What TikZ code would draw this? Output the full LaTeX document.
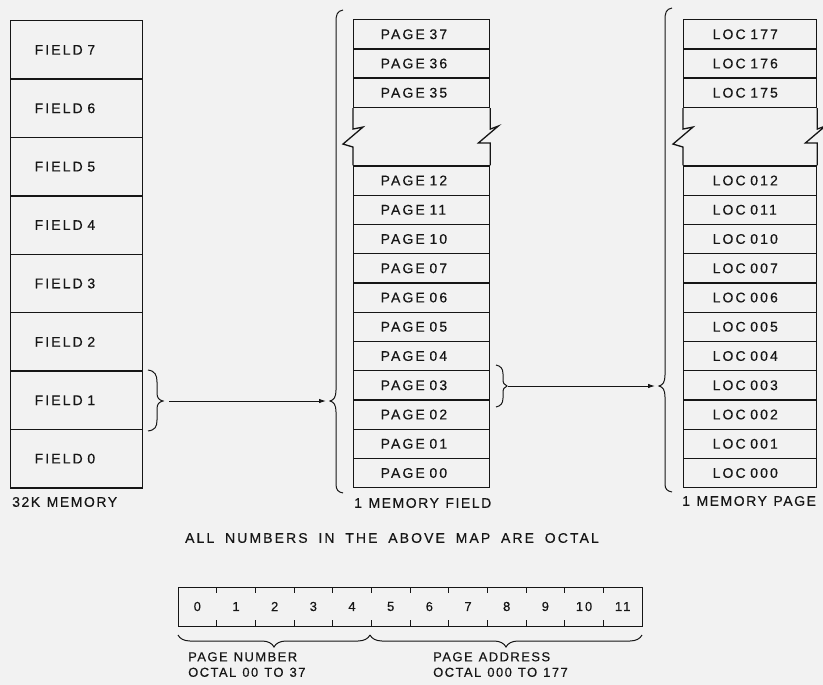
\documentclass[tikz,border=0pt]{standalone}
\usepackage{fontspec}
\setmainfont{Liberation Sans}[LetterSpace=15, WordSpace=1.8, FakeBold=0.4]
\newfontfamily\tightlbl{Liberation Sans}[LetterSpace=11, WordSpace=1.2, FakeBold=0.4]
\usetikzlibrary{arrows.meta,decorations.pathreplacing}
\definecolor{bgc}{RGB}{242,242,242}
\definecolor{ink}{RGB}{22,22,22}
\begin{document}
\begin{tikzpicture}[x=1pt,y=-1pt,
  every node/.style={text=ink},
  txt/.style={font=\fontsize{14}{16}\selectfont},
  smalltxt/.style={font=\fontsize{13}{15.5}\selectfont},
  boxline/.style={draw=ink, line width=1.3pt},
  fieldbox/.style={boxline, txt, minimum height=58.4pt, text width=84pt, inner xsep=24pt, inner ysep=0pt, align=left, anchor=north west},
  pagebox/.style={boxline, txt, minimum height=29.25pt, text width=82pt, inner xsep=27pt, inner ysep=0pt, align=left, anchor=north west},
  locbox/.style={boxline, txt, minimum height=29.25pt, text width=75pt, inner xsep=29pt, inner ysep=0pt, align=left, anchor=north west},
  bracestyle/.style={draw=ink, line width=1pt},
  arr/.style={draw=ink, line width=0.9pt, -{Latex[length=7pt,width=4.5pt]}},
  lbl/.style={font=\tightlbl\fontsize{14}{16}\selectfont, anchor=west, inner sep=0pt},
  botlbl/.style={font=\tightlbl\fontsize{13}{15.5}\selectfont, anchor=north west, align=left, inner sep=0pt}
]
\fill[bgc] (0,0) rectangle (823,685);
\useasboundingbox (0,0) rectangle (823,685);

% 32K memory column
\foreach \i in {0,...,7}
  \node[fieldbox] (f\i) at (10,{20+(7-\i)*58.4}) {FIELD \i};

% memory field column
\foreach \k/\lab in {0/37,1/36,2/35,5/12,6/11,7/10,8/07,9/06,10/05,11/04,12/03,13/02,14/01,15/00}
  \node[pagebox] (p\lab) at (353,{19+\k*29.25}) {PAGE \lab};

% memory page column
\foreach \k/\lab in {0/177,1/176,2/175,5/012,6/011,7/010,8/007,9/006,10/005,11/004,12/003,13/002,14/001,15/000}
  \node[locbox] (l\lab) at (683,{19+\k*29.25}) {LOC \lab};

% breaks
\draw[boxline] (p35.south west) -- ++(0,21) -- ++(10,-2) -- ++(-20,17) -- ++(10,3) -- (p12.north west);
\draw[boxline] (p35.south east) -- ++(0,21) -- ++(8,-3) -- ++(-20,17) -- ++(12,0) -- (p12.north east);
\draw[boxline] (l175.south west) -- ++(0,21) -- ++(10,-2) -- ++(-20,17) -- ++(10,3) -- (l012.north west);
\draw[boxline] (l175.south east) -- ++(0,21) -- ++(8,-3) -- ++(-20,17) -- ++(12,0) -- (l012.north east);

% column labels
\node[lbl] (lab1) at (12,502) {32K MEMORY};
\node[lbl] (lab2) at (354,503) {1 MEMORY FIELD};
\node[lbl] (lab3) at (682,501) {1 MEMORY PAGE};

% braces
\draw[bracestyle] (148,370) .. controls (155,371) and (157,375) .. (157,382) -- (157,393)
  .. controls (157,398) and (159,400) .. (163,401) .. controls (159,402) and (157,404) .. (157,409)
  -- (157,420) .. controls (157,427) and (155,430) .. (148,431);
\coordinate (t1) at (163,401);
\draw[bracestyle] (343,10) .. controls (337,11) and (336,15) .. (336,22) -- (336,390)
  .. controls (336,397) and (334,400) .. (330,401) .. controls (334,402) and (336,405) .. (336,412)
  -- (336,484) .. controls (336,490) and (338,492) .. (343,493);
\coordinate (t2) at (330,401);
\draw[bracestyle] (496,365) .. controls (501,366) and (503,369) .. (503,374) -- (503,379)
  .. controls (503,383) and (504,385) .. (507,386) .. controls (504,387) and (503,389) .. (503,393)
  -- (503,398) .. controls (503,403) and (501,406) .. (496,407);
\coordinate (t3) at (507,386);
\draw[bracestyle] (672,8) .. controls (666,9) and (665,13) .. (665,20) -- (665,375)
  .. controls (665,382) and (663,385) .. (659,386) .. controls (663,387) and (665,390) .. (665,397)
  -- (665,484) .. controls (665,489) and (667,491) .. (672,492);
\coordinate (t4) at (659,386);

\draw[arr, shorten <=6pt, shorten >=4pt] (t1) -- (t2);
\draw[arr, shorten <=1pt, shorten >=4pt] (t3) -- (t4);

% note
\node[txt, inner sep=0pt] (note) at (392,538) {ALL NUMBERS IN THE ABOVE MAP ARE OCTAL};

% register
\node[boxline, minimum width=464pt, minimum height=39pt, anchor=north west, inner sep=0pt] (reg) at (178,587) {};
\foreach \i in {0,...,11}
  \node[smalltxt, inner sep=0pt] (d\i) at ({178+38.67*(\i+0.5)},606.5) {\i};
\foreach \i in {1,...,11} {
  \draw[draw=ink, line width=1pt] ({178+38.67*\i},587) -- ++(0,6);
  \draw[draw=ink, line width=1pt] ({178+38.67*\i},626) -- ++(0,-6);
}
\draw[bracestyle, decorate, decoration={brace, mirror, amplitude=12pt}] (178,635) -- (370,635);
\draw[bracestyle, decorate, decoration={brace, mirror, amplitude=12pt}] (370,635) -- (642,635);
\node[botlbl] (pn) at (188,652) {PAGE NUMBER\\OCTAL 00 TO 37};
\node[botlbl] (pa) at (433,652) {PAGE ADDRESS\\OCTAL 000 TO 177};
\end{tikzpicture}
\end{document}
